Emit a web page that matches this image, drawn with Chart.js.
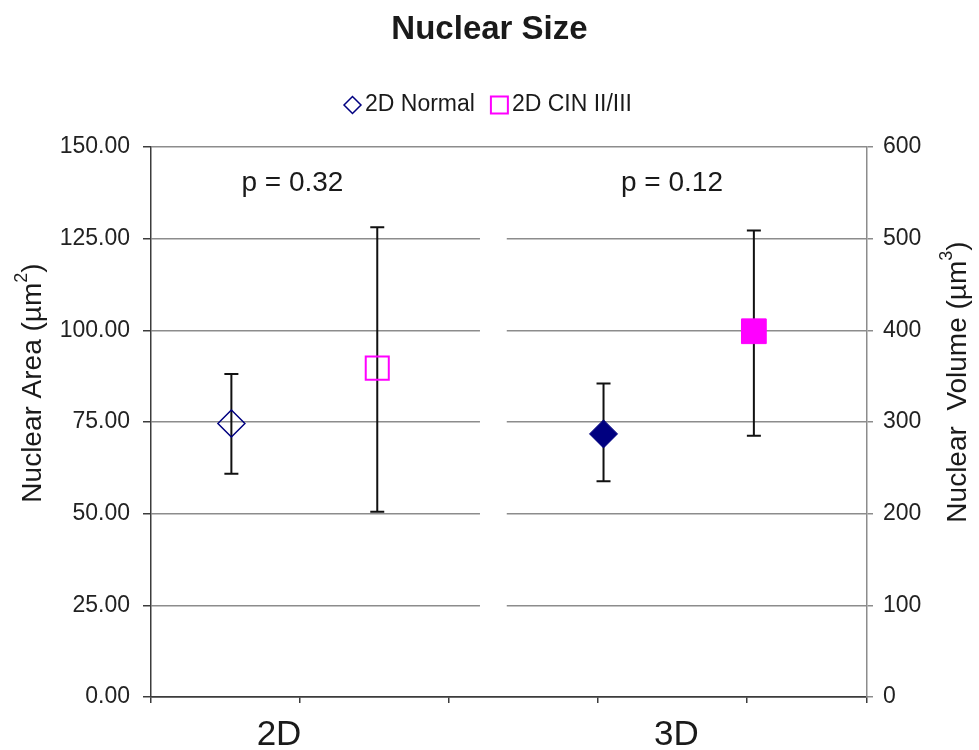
<!DOCTYPE html>
<html>
<head>
<meta charset="utf-8">
<title>Nuclear Size</title>
<script src="https://cdn.jsdelivr.net/npm/chart.js@4.4.1/dist/chart.umd.min.js"></script>
<style>
  html, body { margin: 0; padding: 0; background: #fff; }
  #wrap { width: 979px; height: 750px; }
</style>
</head>
<body>
<div id="wrap"><canvas id="sizeChart" width="979" height="750"></canvas></div>
<script>
// Series (2D on the left axis, 3D on the right axis)
const seriesNames = ['2D Normal', '2D CIN II/III', '3D Normal', '3D CIN II/III'];
const xValues = [0.54, 1.52, 3.04, 4.05];
const meanValues = [74.6, 89.7, 287, 399];
const lowerValues = [60.9, 50.5, 235.5, 285];
const upperValues = [88.1, 128.1, 342, 509];
const seriesAxis = ['y', 'y', 'y2', 'y2'];
const legendSeries = [0, 1];

// Group labels under the x axis and the p values above each group
const groupLabels = ['2D', '3D'];
const groupLabelX = [0.86, 3.53];
const pLabels = ['p = 0.32', 'p = 0.12'];
const pLabelX = [0.95, 3.5];
const pLabelY = 140;

// Axis ranges
const leftTicks = { min: 0, max: 150, step: 25 };
const rightTicks = { min: 0, max: 600, step: 100 };

const navy = '#000080';
const magenta = '#ff00ff';
const textColor = '#1a1a1a';
const gridColor = '#8c8c8c';
const axisColor = '#3c3c3c';
const fontFamily = "'Liberation Sans', Arial, sans-serif";

Chart.defaults.font.family = fontFamily;
Chart.defaults.color = textColor;

const markerStyles = [
  { pointStyle: 'rectRot', radius: 13.5, legendRadius: 8.5, bg: 'rgba(0,0,0,0)', border: navy, width: 1.5 },
  { pointStyle: 'rect', radius: 16.3, legendRadius: 12, bg: 'rgba(0,0,0,0)', border: magenta, width: 2 },
  { pointStyle: 'rectRot', radius: 14, legendRadius: 8.5, bg: navy, border: navy, width: 1 },
  { pointStyle: 'rect', radius: 17.5, legendRadius: 12, bg: magenta, border: magenta, width: 1 }
];

const datasets = seriesNames.map((name, i) => ({
  label: name,
  data: [{ x: xValues[i], y: meanValues[i] }],
  yAxisID: seriesAxis[i],
  pointStyle: markerStyles[i].pointStyle,
  pointRadius: markerStyles[i].radius,
  pointHoverRadius: markerStyles[i].radius,
  backgroundColor: markerStyles[i].bg,
  borderColor: markerStyles[i].border,
  borderWidth: markerStyles[i].width,
  errLow: lowerValues[i],
  errHigh: upperValues[i]
}));

// draws text rotated -90deg, parts = [text, size, rise]
function drawVerticalTitle(ctx, cx, cy, parts) {
  ctx.save();
  ctx.translate(cx, cy);
  ctx.rotate(-Math.PI / 2);
  ctx.fillStyle = textColor;
  ctx.textBaseline = 'middle';
  ctx.textAlign = 'left';
  let total = 0;
  parts.forEach(p => {
    ctx.font = p[1] + 'px ' + fontFamily;
    total += ctx.measureText(p[0]).width;
  });
  let pos = -total / 2;
  parts.forEach(p => {
    ctx.font = p[1] + 'px ' + fontFamily;
    ctx.fillText(p[0], pos, p[2]);
    pos += ctx.measureText(p[0]).width;
  });
  ctx.restore();
}

// legend drawn by hand so the marker/text spacing matches the figure
function drawLegend(ctx, centerX, centerY) {
  const gap = 4, itemGap = 16;
  ctx.save();
  ctx.font = '23px ' + fontFamily;
  ctx.textBaseline = 'middle';
  ctx.textAlign = 'left';
  const items = legendSeries.map(i => ({
    i: i,
    markW: markerStyles[i].pointStyle === 'rect' ? markerStyles[i].legendRadius * Math.SQRT2 : markerStyles[i].legendRadius * 2,
    textW: ctx.measureText(seriesNames[i]).width
  }));
  let total = 0;
  items.forEach((it, k) => { total += it.markW + gap + it.textW + (k ? itemGap : 0); });
  let x = centerX - total / 2;
  items.forEach((it, k) => {
    if (k) x += itemGap;
    const st = markerStyles[it.i];
    ctx.fillStyle = st.bg;
    ctx.strokeStyle = st.border;
    ctx.lineWidth = st.width;
    Chart.helpers.drawPoint(ctx, { pointStyle: st.pointStyle, radius: st.legendRadius, borderWidth: st.width, rotation: 0 }, x + it.markW / 2, centerY);
    x += it.markW + gap;
    ctx.fillStyle = textColor;
    ctx.fillText(seriesNames[it.i], x, centerY);
    x += it.textW;
  });
  ctx.restore();
}

const extras = {
  id: 'extras',
  beforeDatasetsDraw(chart) {
    const { ctx, chartArea: area, scales } = chart;
    const x = scales.x;
    ctx.save();
    // break in the gridlines between the two panels
    const g0 = x.getPixelForValue(2.21);
    const g1 = x.getPixelForValue(2.39);
    ctx.fillStyle = '#fff';
    ctx.fillRect(g0, area.top + 2, g1 - g0, area.bottom - area.top - 4);

    // error bars
    ctx.strokeStyle = '#111';
    ctx.lineWidth = 2;
    chart.data.datasets.forEach(ds => {
      const ys = scales[ds.yAxisID];
      const px = x.getPixelForValue(ds.data[0].x);
      const top = ys.getPixelForValue(ds.errHigh);
      const bottom = ys.getPixelForValue(ds.errLow);
      ctx.beginPath();
      ctx.moveTo(px, top);
      ctx.lineTo(px, bottom);
      ctx.moveTo(px - 7, top);
      ctx.lineTo(px + 7, top);
      ctx.moveTo(px - 7, bottom);
      ctx.lineTo(px + 7, bottom);
      ctx.stroke();
    });
    ctx.restore();
  },
  afterDraw(chart) {
    const { ctx, scales } = chart;
    const x = scales.x;
    const y = scales.y;
    ctx.save();
    ctx.fillStyle = textColor;
    ctx.textAlign = 'center';
    ctx.textBaseline = 'middle';

    ctx.font = '28px ' + fontFamily;
    pLabels.forEach((t, i) => {
      ctx.fillText(t, x.getPixelForValue(pLabelX[i]), y.getPixelForValue(pLabelY));
    });

    ctx.font = '35px ' + fontFamily;
    groupLabels.forEach((t, i) => {
      ctx.fillText(t, x.getPixelForValue(groupLabelX[i]), 735);
    });
    ctx.restore();

    drawLegend(ctx, 488, 105);
    drawVerticalTitle(ctx, 33, 383, [['Nuclear Area (\u00b5m', 28, 0], ['2', 18, -11], [')', 28, 0]]);
    drawVerticalTitle(ctx, 958, 382, [['Nuclear  Volume (\u00b5m', 28, 0], ['3', 18, -11], [')', 28, 0]]);
  }
};

new Chart(document.getElementById('sizeChart'), {
  type: 'scatter',
  data: { datasets: datasets },
  plugins: [extras],
  options: {
    responsive: false,
    animation: false,
    layout: { padding: 0 },
    plugins: {
      title: {
        display: true,
        text: 'Nuclear Size',
        color: textColor,
        font: { size: 33, weight: 'bold' },
        padding: { top: 10, bottom: 97.4 }
      },
      legend: { display: false },
      tooltip: { enabled: false }
    },
    scales: {
      x: {
        type: 'linear',
        min: 0,
        max: 4.81,
        afterFit: s => { s.height = 53; },
        ticks: { stepSize: 1, callback: () => '' },
        grid: { drawOnChartArea: false, tickLength: 6, tickColor: axisColor, lineWidth: 1.5 },
        border: { color: axisColor, width: 1.5 }
      },
      y: {
        position: 'left',
        min: leftTicks.min,
        max: leftTicks.max,
        afterFit: s => { s.width = 151; },
        ticks: {
          stepSize: leftTicks.step,
          padding: 13,
          color: '#222',
          font: { size: 23 },
          callback: v => v.toFixed(2)
        },
        grid: {
          color: ctx => ctx.tick.value === 0 ? axisColor : gridColor,
          lineWidth: 1.5,
          tickLength: 8,
          tickColor: axisColor
        },
        border: { color: axisColor, width: 1.5 }
      },
      y2: {
        position: 'right',
        min: rightTicks.min,
        max: rightTicks.max,
        afterFit: s => { s.width = 112; },
        ticks: { stepSize: rightTicks.step, padding: 10, color: '#222', font: { size: 23 } },
        grid: { drawOnChartArea: false, tickLength: 6, tickColor: gridColor, lineWidth: 1.5 },
        border: { color: gridColor, width: 1.5 }
      }
    }
  }
});
</script>
</body>
</html>
